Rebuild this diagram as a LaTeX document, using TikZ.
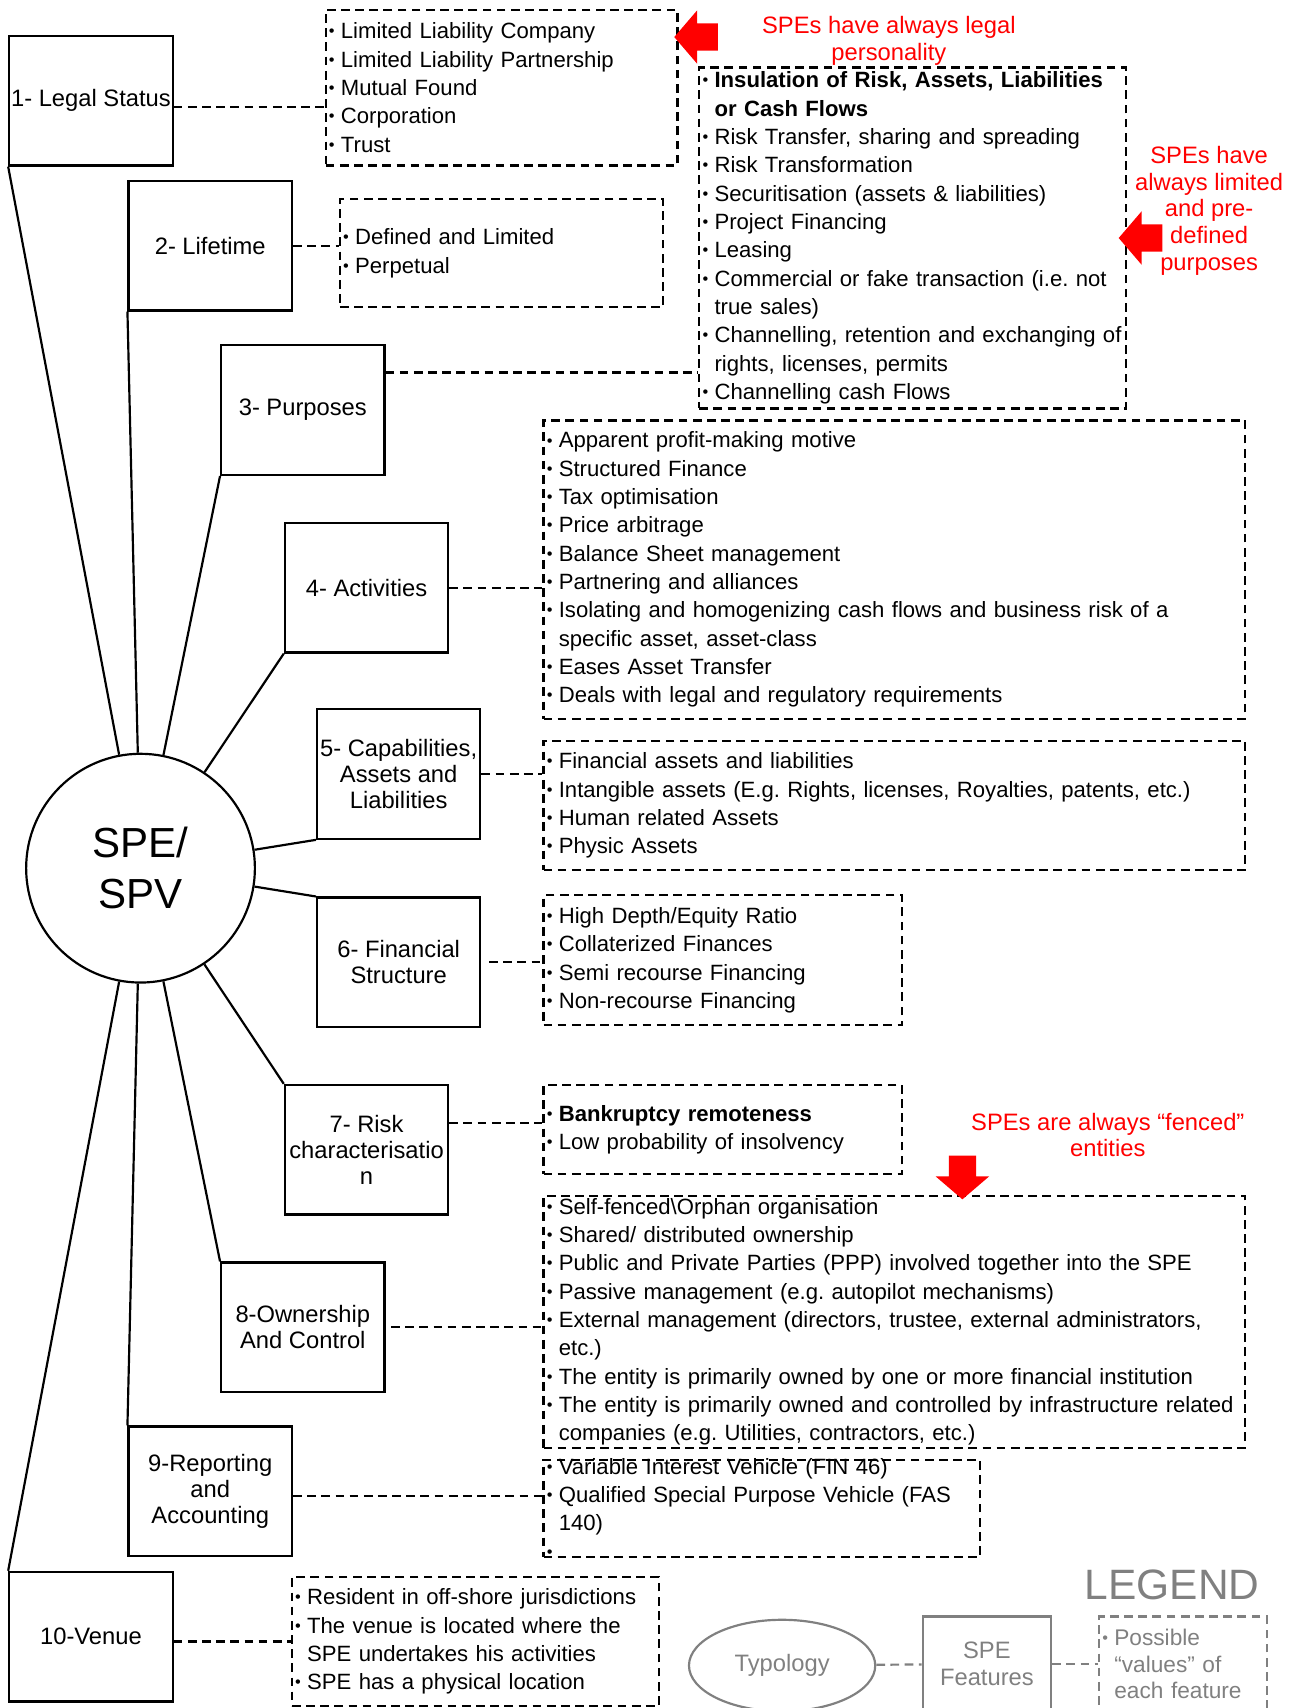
\documentclass[tikz,border=0pt]{standalone}
\usepackage{fontspec}
\setmainfont{Liberation Sans}
\usetikzlibrary{shapes.geometric}

\definecolor{spered}{RGB}{255,0,0}
\definecolor{legendgray}{RGB}{128,128,128}

\newcommand{\listfont}{\fontsize{10.15}{13}\selectfont}
\newcommand{\boxfont}{\fontsize{10.9}{12}\selectfont}
\newcommand{\bul}{\raisebox{0.9pt}{\fontsize{7.5}{7.5}\selectfont\textbullet}}
\newcommand{\itm}[1]{\makebox[5.5pt][l]{\bul}\mbox{#1}}
\newcommand{\cnt}[1]{\hspace*{5.5pt}\mbox{#1}}
\frenchspacing

\begin{document}
\begin{tikzpicture}[x = 0.5pt, y = -0.5pt, % one unit = one pixel, y going down
                line width = 1pt, % line style
                feat/.style = {draw, rectangle, align = center, inner sep = 0pt,
                minimum width = 75pt, minimum height = 59.5pt, font = \boxfont},
                lst/.style 2 args = {draw, dashed, dash pattern = on 4pt off 2.5pt,
                rectangle, align = left, inner xsep = 1.5pt, inner ysep = 0pt,
                text width = #1, minimum height = #2, font = \listfont},
                link/.style = {dashed, dash pattern = on 4pt off 2.5pt},
                redarr/.pic = {\fill[spered] (0,0) -- (21,-24.5) -- (21,-12.5)
                -- (40,-12.5) -- (40,12.5) -- (21,12.5) -- (21,24.5) -- cycle;}
            ]

            \tikzstyle{note}=[text = spered, align = center,
            font = \fontsize{10.9}{12.25}\selectfont]
            \tikzstyle{glink}=[link, draw = legendgray]

            \useasboundingbox (0,0) rectangle (1195,1568);

            % the entity and its features
            \node (spe) [draw, circle, minimum size = 105pt, inner sep = 0pt,
            align = center, font = \fontsize{19.3}{23.5}\selectfont]
            at (129,797) {SPE/\\SPV};

            \node (b1) [feat] at (83.5,92.5) {1- Legal Status};
            \node (b2) [feat] at (193,225.5) {2- Lifetime};
            \node (b3) [feat] at (278,376.5) {3- Purposes};
            \node (b4) [feat] at (336.5,539.5) {4- Activities};
            \node (b5) [feat] at (366,710.5) {5- Capabilities,\\Assets and\\Liabilities};
            \node (b6) [feat] at (366,883.5) {6- Financial\\Structure};
            \node (b7) [feat] at (336.5,1055.5) {7- Risk\\characterisatio\\n};
            \node (b8) [feat] at (278,1218.5) {8-Ownership\\And Control};
            \node (b9) [feat] at (193,1369) {9-Reporting\\and\\Accounting};
            \node (b10) [feat] at (83.5,1502.5) {10-Venue};

            \foreach \i in {1,...,5} \draw (b\i.south west) -- (spe);
            \foreach \i in {6,...,10} \draw (b\i.north west) -- (spe);

            % possible values
            \node (lA) [lst = {158.5pt}{71.5pt}] at (460.5,80.5)
            {\itm{Limited Liability Company}\\\itm{Limited Liability Partnership}\\
            \itm{Mutual Found}\\\itm{Corporation}\\\itm{Trust}};
            \node (lB) [lst = {145.5pt}{49.5pt}] at (460.5,232.5)
            {\itm{Defined and Limited}\\\itm{Perpetual}};
            \node (lC) [lst = {193pt}{156.5pt}] at (838,218.5)
            {\itm{\bfseries Insulation of Risk, Assets, Liabilities}\\\cnt{\bfseries or Cash Flows}\\
            \itm{Risk Transfer, sharing and spreading}\\\itm{Risk Transformation}\\
            \itm{Securitisation (assets \& liabilities)}\\\itm{Project Financing}\\
            \itm{Leasing}\\\itm{Commercial or fake transaction (i.e. not}\\\cnt{true sales)}\\
            \itm{Channelling, retention and exchanging of}\\\cnt{rights, licenses, permits}\\
            \itm{Channelling cash Flows}};
            \node (lD) [lst = {319pt}{137pt}] at (821,523)
            {\itm{Apparent profit-making motive}\\\itm{Structured Finance}\\
            \itm{Tax optimisation}\\\itm{Price arbitrage}\\\itm{Balance Sheet management}\\
            \itm{Partnering and alliances}\\
            \itm{Isolating and homogenizing cash flows and business risk of a}\\
            \cnt{specific asset, asset-class}\\\itm{Eases Asset Transfer}\\
            \itm{Deals with legal and regulatory requirements}};
            \node (lE) [lst = {319pt}{59.5pt}] at (821,739.5)
            {\itm{Financial assets and liabilities}\\
            \itm{Intangible assets (E.g. Rights, licenses, Royalties, patents, etc.)}\\
            \itm{Human related Assets}\\\itm{Physic Assets}};
            \node (lF) [lst = {161.5pt}{59.5pt}] at (663.5,881.5)
            {\itm{High Depth/Equity Ratio}\\\itm{Collaterized Finances}\\
            \itm{Semi recourse Financing}\\\itm{Non-recourse Financing}};
            \node (lG) [lst = {161.5pt}{41pt}] at (663.5,1037)
            {\itm{\bfseries Bankruptcy remoteness}\\\itm{Low probability of insolvency}};
            \node (lH) [lst = {319pt}{115.5pt}] at (821,1213.5)
            {\itm{Self-fenced\textbackslash Orphan organisation}\\
            \itm{Shared/ distributed ownership}\\
            \itm{Public and Private Parties (PPP) involved together into the SPE}\\
            \itm{Passive management (e.g. autopilot mechanisms)}\\
            \itm{External management (directors, trustee, external administrators,}\\\cnt{etc.)}\\
            \itm{The entity is primarily owned by one or more financial institution}\\
            \itm{The entity is primarily owned and controlled by infrastructure related}\\
            \cnt{companies (e.g. Utilities, contractors, etc.)}};
            \node (lI) [lst = {197.5pt}{44.5pt}, inner ysep = -7pt] at (699.5,1385)
            {\itm{Variable Interest Vehicle (FIN 46)}\\
            \itm{Qualified Special Purpose Vehicle (FAS}\\\cnt{140)}\\\itm{}};
            \node (lJ) [lst = {165.5pt}{59pt}] at (436.5,1507)
            {\itm{Resident in off-shore jurisdictions}\\\itm{The venue is located where the}\\
            \cnt{SPE undertakes his activities}\\\itm{SPE has a physical location}};

            \draw[link] ([yshift = -2.75pt]b1.east) coordinate (c1) -- (c1 -| lA.west);
            \draw[link] (b2.east) -- (b2.east -| lB.west);
            \draw[link] ([yshift = 17.25pt]b3.east) coordinate (c3) -- (c3 -| lC.west);
            \draw[link] (b4.east) -- (b4.east -| lD.west);
            \draw[link] (b5.east) -- (b5.east -| lE.west);
            \draw[link] ([xshift = 3.5pt]b6.east) -- (b6.east -| lF.west);
            \draw[link] ([yshift = 12.25pt]b7.east) coordinate (c7) -- (c7 -| lG.west);
            \draw[link] ([xshift = 2.5pt]b8.east) -- (b8.east -| lH.west);
            \draw[link] ([yshift = -2pt]b9.east) coordinate (c9) -- (c9 -| lI.west);
            \draw[link] ([yshift = -2.25pt]b10.east) coordinate (c10) -- (c10 -| lJ.west);

            % remarks in red
            \node (rA) [note] at (816,37.5) {SPEs have always legal\\personality};
            \node (rC) [note] at (1110,193.5) {SPEs have\\always limited\\and pre-\\defined\\purposes};
            \node (rH) [note] at (1017,1042) {SPEs are always “fenced”\\entities};
            \pic at (619,34) {redarr};
            \pic at (1027,218.5) {redarr};
            \pic[rotate = 90] at (883.5,1101) {redarr};

            % legend
            \node (leg) [text = legendgray, font = \fontsize{19.5}{20}\selectfont]
            at (1076,1455) {LEGEND};
            \node (typ) [draw = legendgray, ellipse, text = legendgray, font = \boxfont,
            minimum width = 85.5pt, minimum height = 42pt] at (718,1529) {Typology};
            \node (sf) [feat, draw = legendgray, text = legendgray, minimum width = 59pt,
            minimum height = 43.5pt, font = \fontsize{10.9}{12.5}\selectfont]
            at (906,1527.5) {SPE\\Features};
            \node (pv) [lst = {74pt}{43.5pt}, draw = legendgray, text = legendgray,
            font = \fontsize{10.4}{12.25}\selectfont] at (1086,1527.5)
            {\itm{Possible}\\\cnt{“values” of}\\\cnt{each feature}};
            \draw[glink] (typ) -- (sf);
            \draw[glink] (sf) -- (pv);
\end{tikzpicture}
\end{document}
